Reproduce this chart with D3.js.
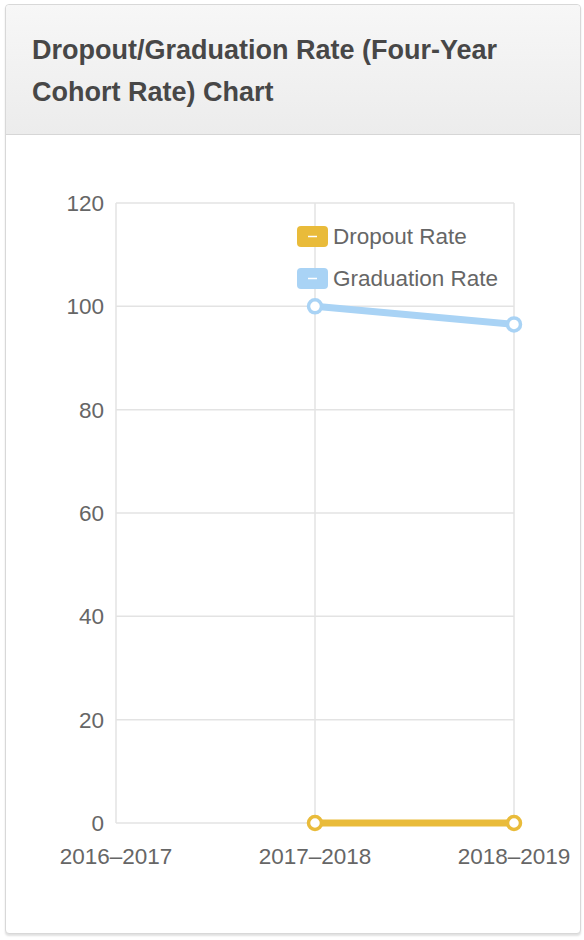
<!DOCTYPE html>
<html>
<head>
<meta charset="utf-8">
<script src="https://cdn.jsdelivr.net/npm/d3@7/dist/d3.min.js"></script>
<style>
  body { margin: 0; background: #fff; font-family: "Liberation Sans", Arial, sans-serif; }
  .card { position: absolute; left: 5px; top: 4px; width: 574px; height: 928px;
    border: 1px solid #d8d8d8; border-radius: 4px; box-shadow: 0 2px 2px rgba(0,0,0,0.12); background: #fff; }
  .head { height: 130px; border-bottom: 1px solid #d6d6d6; border-radius: 4px 4px 0 0;
    background: linear-gradient(#f7f7f7, #ececec); box-sizing: border-box; padding: 24px 20px 0 26px; }
  .head h3 { margin: 0; font-size: 27px; line-height: 42px; font-weight: bold; color: #474747; }
  svg { position: absolute; left: 0; top: 0; }
</style>
</head>
<body>
<div class="card">
  <div class="head"><h3>Dropout/Graduation Rate (Four-Year Cohort Rate) Chart</h3></div>
</div>
<svg id="chart" width="584" height="940"></svg>
<script>
const years = ["2016\u20132017", "2017\u20132018", "2018\u20132019"];
const dropout = [null, 0, 0];
const graduation = [null, 100, 96.5];
const yTicks = [0, 20, 40, 60, 80, 100, 120];
const seriesNames = ["Dropout Rate", "Graduation Rate"];
const seriesColors = ["#e9bb3a", "#a9d3f5"];

const svg = d3.select("#chart");
const m = { left: 116, right: 514, top: 203, bottom: 823 };

const x = d3.scalePoint().domain(years).range([m.left, m.right]);
const y = d3.scaleLinear().domain([0, 120]).range([m.bottom, m.top]);

// grid
const grid = svg.append("g");
grid.selectAll(".hg").data(yTicks).join("line")
  .attr("x1", m.left).attr("x2", m.right)
  .attr("y1", d => y(d)).attr("y2", d => y(d))
  .attr("stroke", "#e3e3e3").attr("stroke-width", 1.5);
grid.selectAll(".vg").data(years).join("line")
  .attr("x1", d => x(d)).attr("x2", d => x(d))
  .attr("y1", m.top).attr("y2", m.bottom)
  .attr("stroke", "#e3e3e3").attr("stroke-width", 1.5);

// y labels
svg.append("g").selectAll("text").data(yTicks).join("text")
  .attr("x", m.left - 12).attr("y", d => y(d) + 8)
  .attr("text-anchor", "end")
  .attr("font-size", 22.5).attr("fill", "#666")
  .text(d => d);

// x labels
svg.append("g").selectAll("text").data(years).join("text")
  .attr("x", d => x(d)).attr("y", m.bottom + 41)
  .attr("text-anchor", "middle")
  .attr("font-size", 22.5).attr("fill", "#666")
  .text(d => d);

// lines
const series = [dropout, graduation];
const line = d3.line()
  .defined(d => d.v != null)
  .x(d => x(d.k)).y(d => y(d.v));

series.forEach((vals, i) => {
  const pts = years.map((k, j) => ({ k, v: vals[j] }));
  const g = svg.append("g");
  g.append("path").datum(pts)
    .attr("d", line)
    .attr("fill", "none")
    .attr("stroke", seriesColors[i])
    .attr("stroke-width", 7);
  g.selectAll("circle").data(pts.filter(d => d.v != null)).join("circle")
    .attr("cx", d => x(d.k)).attr("cy", d => y(d.v))
    .attr("r", 6.5)
    .attr("fill", "#fff")
    .attr("stroke", seriesColors[i])
    .attr("stroke-width", 3.5);
});

// legend
const lg = svg.append("g").attr("transform", "translate(297,226)");
seriesNames.forEach((name, i) => {
  const row = lg.append("g").attr("transform", `translate(0,${i * 42})`);
  row.append("rect").attr("width", 31).attr("height", 21).attr("rx", 4)
    .attr("fill", seriesColors[i]);
  row.append("line").attr("x1", 11).attr("x2", 20).attr("y1", 10.5).attr("y2", 10.5)
    .attr("stroke", "#fff").attr("stroke-width", 1.5);
  row.append("text").attr("x", 36).attr("y", 18)
    .attr("font-size", 22.5).attr("fill", "#666")
    .text(name);
});
</script>
</body>
</html>
